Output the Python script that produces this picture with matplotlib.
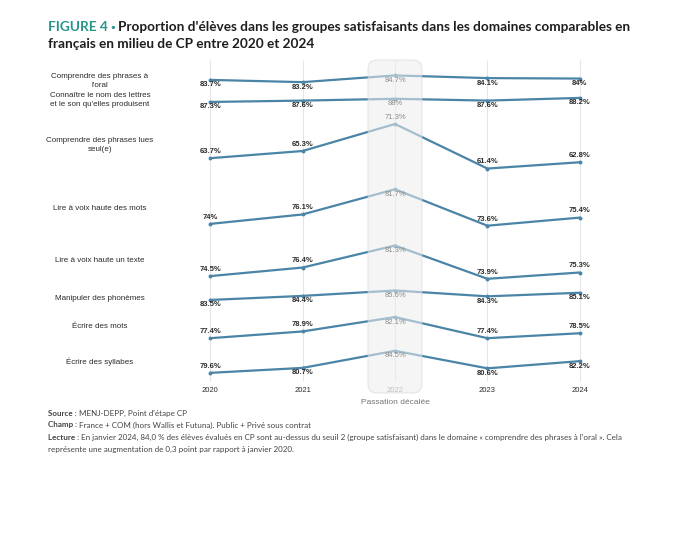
import matplotlib
matplotlib.use("Agg")
import matplotlib.pyplot as plt
from matplotlib.patches import FancyBboxPatch

# data
years = [2020, 2021, 2022, 2023, 2024]
categories = [
    "Comprendre des phrases à\nl'oral",
    "Connaître le nom des lettres\net le son qu'elles produisent",
    "Comprendre des phrases lues\nseul(e)",
    "Lire à voix haute des mots",
    "Lire à voix haute un texte",
    "Manipuler des phonèmes",
    "Écrire des mots",
    "Écrire des syllabes",
]
oral = [83.7, 83.2, 84.7, 84.1, 84.0]
lettres = [87.3, 87.6, 88.0, 87.6, 88.2]
phrases_lues = [63.7, 65.3, 71.3, 61.4, 62.8]
voix_mots = [74.0, 76.1, 81.7, 73.6, 75.4]
voix_texte = [74.5, 76.4, 81.3, 73.9, 75.3]
phonemes = [83.5, 84.4, 85.6, 84.3, 85.1]
ecrire_mots = [77.4, 78.9, 82.1, 77.4, 78.5]
syllabes = [79.6, 80.7, 84.5, 80.6, 82.2]
series = [oral, lettres, phrases_lues, voix_mots, voix_texte, phonemes, ecrire_mots, syllabes]

# layout: vertical shift of each row (points) and label sides (a=above, b=below)
row_shift = [15.9, 24.4, 13.3, 38.2, 50.3, 64.6, 67.0, 76.9]
label_side = ["bbbbb", "bbbbb", "aaaaa", "aabaa", "aabaa", "bbbbb", "aabaa", "abbbb"]
cat_y_px = [81, 100, 145, 208, 261, 298, 327, 362]

line_col = "#4a84a6"
dark = "#2b2b2b"
grey = "#8c8c8c"
teal = "#26958a"
W, H = 680, 545

fig = plt.figure(figsize=(6.8, 5.45), dpi=100)
ax = fig.add_axes([164 / W, 1 - 385 / H, 462 / W, 325 / H])
ax.set_xlim(2019.5, 2024.5)
ax.set_ylim(0, 325 / 4.5)
for s in ax.spines.values():
    s.set_visible(False)
ax.set_yticks([])
ax.set_xticks(years)
ax.set_xticklabels([str(y) for y in years], fontsize=5.5, family="Liberation Sans", color=dark)
ax.tick_params(axis="x", length=0, pad=1.5)
ax.get_xticklabels()[2].set_color(grey)

ax.vlines(years, 0.8, 325 / 4.5, color="#e6e6e6", lw=0.8, zorder=0)

for i, vals in enumerate(series):
    ys = [v - row_shift[i] for v in vals]
    ax.plot(years, ys, color=line_col, lw=1.6, marker="o", ms=1.8, zorder=2,
            solid_capstyle="round")
    for j, (x, y, v) in enumerate(zip(years, ys, vals)):
        off = 4.8 if label_side[i][j] == "a" else -3.6
        is22 = x == 2022
        ax.annotate(f"{v:g}%", (x, y), xytext=(0, off), textcoords="offset points",
                    ha="center", va="center", fontsize=5.5, family="Liberation Sans",
                    fontweight="normal" if is22 else "bold",
                    color=grey if is22 else dark, zorder=5)
    fig.text(100 / W, 1 - cat_y_px[i] / H, categories[i], ha="center", va="center",
             fontsize=5.8, family="Liberation Sans", color=dark, linespacing=1.45)

# shaded band for 2022
xpx = 1 / 92.4
ypx = 1 / 4.5
box = FancyBboxPatch((2022 - 27 * xpx, -8 * ypx), 54 * xpx, 333 * ypx,
                     boxstyle=f"round,pad=0,rounding_size={9 * xpx}",
                     mutation_aspect=ypx / xpx, facecolor="#eeeeee", alpha=0.55,
                     edgecolor="#cfcfcf", lw=0.7, zorder=4, clip_on=False)
ax.add_patch(box)
fig.text(395 / W, 1 - 403 / H, "Passation décalée", ha="center", va="center",
         fontsize=6, family="Liberation Sans", color="#777777")


def rich(x_px, y_px, parts, family):
    r = fig.canvas.get_renderer()
    x = x_px / W
    for txt, weight, color, size in parts:
        t = fig.text(x, 1 - y_px / H, txt, fontsize=size, fontweight=weight, color=color,
                     family=family, va="center", ha="left")
        x += t.get_window_extent(renderer=r).width / fig.bbox.width


ts = 9.8
title_col = "#1e1e1e"
rich(48, 27, [("FIGURE 4 ", "bold", teal, ts), ("• ", "bold", teal, ts * 0.6),
              ("Proportion d'élèves dans les groupes satisfaisants dans les domaines comparables en", "bold", title_col, ts)],
     "Lato")
rich(48, 44, [("français en milieu de CP entre 2020 et 2024", "bold", title_col, ts)], "Lato")

foot = "#444444"
fs = 5.8
rich(48, 413, [("Source : ", "bold", foot, fs), ("MENJ-DEPP, Point d'étape CP", "normal", foot, fs)], "Lato")
rich(48, 425, [("Champ : ", "bold", foot, fs), ("France + COM (hors Wallis et Futuna). Public + Privé sous contrat", "normal", foot, fs)], "Lato")
rich(48, 437, [("Lecture : ", "bold", foot, fs),
               ("En janvier 2024, 84,0 % des élèves évalués en CP sont au-dessus du seuil 2 (groupe satisfaisant) dans le domaine « comprendre des phrases à l'oral ». Cela", "normal", foot, fs)],
     "Lato")
rich(48, 449, [("représente une augmentation de 0,3 point par rapport à janvier 2020.", "normal", foot, fs)], "Lato")

fig.savefig("out.png", dpi=100)
